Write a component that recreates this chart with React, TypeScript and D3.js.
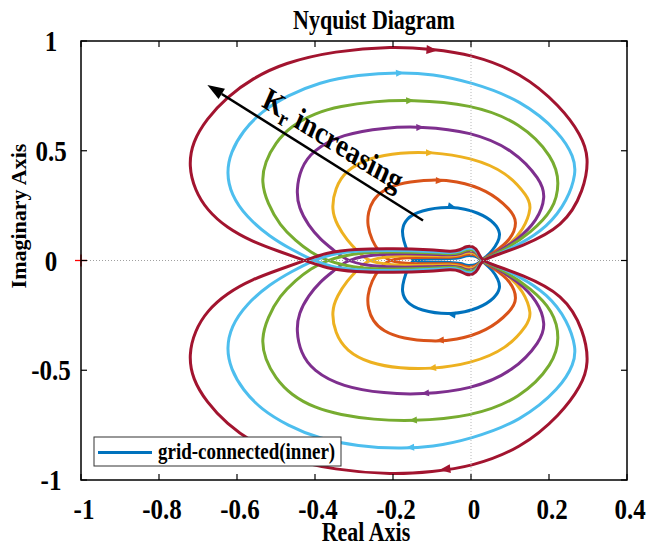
import React from "react";
import * as d3 from "d3";

// ---------- data ----------
const xTicks = [-1, -0.8, -0.6, -0.4, -0.2, 0, 0.2, 0.4];
const xTickLabels = ["-1", "-0.8", "-0.6", "-0.4", "-0.2", "0", "0.2", "0.4"];
const yTicks = [-1, -0.5, 0, 0.5, 1];
const yTickLabels = ["-1", "-0.5", "0", "0.5", "1"];

const seriesNames = ["blue", "orange", "yellow", "purple", "green", "lightblue", "red"];
const seriesColors = ["#0072BD", "#D95319", "#EDB120", "#7E2F8E", "#77AC30", "#4DBEEE", "#A2142F"];

// Upper (positive-imaginary) loop of each Nyquist curve; lower loop is its complex conjugate.
const blueUpper: [number, number][] = [
  [-0.15, 0.0], [-0.162, 0.035], [-0.173, 0.09], [-0.178, 0.14], [-0.167, 0.19], [-0.132, 0.228],
  [-0.05, 0.25], [0.023, 0.218], [0.062, 0.17], [0.076, 0.125], [0.07, 0.085], [0.054, 0.042],
  [0.034, 0.01], [0.026, 0.0], [0.018, -0.015], [0.005, -0.023], [-0.012, -0.023], [-0.025, -0.013],
  [-0.05, -0.008], [-0.1, -0.009], [-0.13, -0.006],
];
const orangeUpper: [number, number][] = [
  [-0.215, 0.0], [-0.236, 0.04], [-0.254, 0.09], [-0.266, 0.16], [-0.264, 0.22], [-0.252, 0.275],
  [-0.226, 0.322], [-0.174, 0.357], [-0.1, 0.369], [-0.04, 0.364], [0.042, 0.322], [0.102, 0.232],
  [0.12, 0.175], [0.102, 0.093], [0.057, 0.034], [0.026, 0.0], [0.018, -0.02], [0.005, -0.03],
  [-0.012, -0.03], [-0.025, -0.02], [-0.05, -0.014], [-0.1, -0.016], [-0.17, -0.014],
];
const yellowUpper: [number, number][] = [
  [-0.265, 0.0], [-0.29, 0.04], [-0.318, 0.093], [-0.343, 0.16], [-0.358, 0.23], [-0.349, 0.33],
  [-0.32, 0.412], [-0.26, 0.469], [-0.18, 0.492], [-0.105, 0.495], [0.0, 0.47], [0.093, 0.402],
  [0.146, 0.29], [0.156, 0.244], [0.135, 0.139], [0.093, 0.062], [0.05, 0.02], [0.026, 0.0],
  [0.018, -0.024], [0.005, -0.037], [-0.012, -0.037], [-0.025, -0.026], [-0.05, -0.019],
  [-0.1, -0.022], [-0.18, -0.023], [-0.23, -0.014],
];
const purpleUpper: [number, number][] = [
  [-0.32, 0.0], [-0.354, 0.05], [-0.386, 0.095], [-0.417, 0.16], [-0.442, 0.24], [-0.448, 0.32],
  [-0.437, 0.42], [-0.406, 0.502], [-0.33, 0.576], [-0.22, 0.606], [-0.13, 0.611], [0.0, 0.588],
  [0.11, 0.505], [0.179, 0.367], [0.192, 0.29], [0.171, 0.184], [0.119, 0.093], [0.06, 0.03],
  [0.026, 0.0], [0.018, -0.028], [0.005, -0.044], [-0.012, -0.044], [-0.026, -0.031],
  [-0.05, -0.024], [-0.1, -0.029], [-0.2, -0.032], [-0.27, -0.023],
];
const greenUpper: [number, number][] = [
  [-0.37, 0.0], [-0.41, 0.035], [-0.45, 0.09], [-0.49, 0.16], [-0.522, 0.26], [-0.538, 0.36],
  [-0.528, 0.45], [-0.502, 0.535], [-0.462, 0.612], [-0.4, 0.672], [-0.336, 0.703], [-0.25, 0.725],
  [-0.156, 0.733], [0.0, 0.713], [0.128, 0.628], [0.212, 0.47], [0.228, 0.353], [0.212, 0.23],
  [0.152, 0.125], [0.09, 0.052], [0.045, 0.016], [0.026, 0.0], [0.018, -0.032], [0.005, -0.05],
  [-0.012, -0.05], [-0.027, -0.035], [-0.05, -0.029], [-0.1, -0.036], [-0.2, -0.04],
  [-0.28, -0.036], [-0.33, -0.02],
];
const lightblueUpper: [number, number][] = [
  [-0.405, 0.0], [-0.46, 0.05], [-0.515, 0.107], [-0.577, 0.2], [-0.615, 0.3], [-0.627, 0.4],
  [-0.616, 0.495], [-0.585, 0.59], [-0.538, 0.678], [-0.47, 0.752], [-0.39, 0.812], [-0.29, 0.846],
  [-0.182, 0.858], [-0.1, 0.85], [0.0, 0.813], [0.128, 0.732], [0.23, 0.58], [0.264, 0.47],
  [0.27, 0.4], [0.248, 0.275], [0.197, 0.153], [0.12, 0.068], [0.06, 0.022], [0.026, 0.0],
  [0.018, -0.037], [0.005, -0.057], [-0.012, -0.057], [-0.028, -0.041], [-0.05, -0.034],
  [-0.1, -0.042], [-0.2, -0.047], [-0.3, -0.044], [-0.36, -0.028],
];
const redUpper: [number, number][] = [
  [-0.426, 0.0], [-0.49, 0.04], [-0.56, 0.085], [-0.627, 0.15], [-0.677, 0.23], [-0.708, 0.32],
  [-0.724, 0.43], [-0.714, 0.54], [-0.678, 0.645], [-0.626, 0.745], [-0.56, 0.83], [-0.48, 0.9],
  [-0.35, 0.955], [-0.2, 0.976], [-0.1, 0.963], [0.0, 0.94], [0.128, 0.857], [0.23, 0.702],
  [0.283, 0.57], [0.303, 0.47], [0.29, 0.32], [0.238, 0.153], [0.126, 0.062], [0.06, 0.022],
  [0.026, 0.0], [0.018, -0.043], [0.005, -0.066], [-0.012, -0.066], [-0.028, -0.047],
  [-0.05, -0.04], [-0.1, -0.049], [-0.2, -0.055], [-0.3, -0.052], [-0.37, -0.036],
];
const seriesUpper = [blueUpper, orangeUpper, yellowUpper, purpleUpper, greenUpper, lightblueUpper, redUpper];

// arrow positions (real-axis value) on the top of upper loops and bottom of lower loops
const arrowTopX = [-0.049, -0.08, -0.105, -0.13, -0.156, -0.182, -0.1];
const arrowBottomX = [-0.05, -0.08, -0.1, -0.118, -0.149, -0.156, -0.067];

const legendLabel = "grid-connected(inner)";
const titleText = "Nyquist Diagram";
const xLabel = "Real Axis";
const yLabel = "Imaginary Axis";

// ---------- layout ----------
const W = 649, H = 545;
const L = 81, R = 627, T = 41, B = 480;
const FONT = "'Liberation Serif', 'Times New Roman', Times, serif";
const SY = 1.2;

const x = d3.scaleLinear().domain([-1, 0.4]).range([L, R]);
const y = d3.scaleLinear().domain([-1, 1]).range([B, T]);

const lineGen = d3
  .line<[number, number]>()
  .x((d) => x(d[0]))
  .y((d) => y(d[1]))
  .curve(d3.curveBasisClosed);

function arrowAt(pts: [number, number][], ax: number, lower: boolean) {
  const maxY = d3.max(pts, (p) => p[1]) as number;
  for (let i = 0; i < pts.length - 1; i++) {
    const a = pts[i], b = pts[i + 1];
    if (a[0] <= ax && ax <= b[0] && a[1] > 0.6 * maxY && b[1] > 0.6 * maxY) {
      const t = (ax - a[0]) / (b[0] - a[0]);
      const yy = a[1] + t * (b[1] - a[1]) - 0.004;
      const sy = lower ? -1 : 1;
      const px = x(ax), py = y(sy * yy);
      let dx = x(b[0]) - x(a[0]);
      let dy = y(sy * b[1]) - y(sy * a[1]);
      if (lower) { dx = -dx; dy = -dy; }
      const ang = (Math.atan2(dy, dx) * 180) / Math.PI;
      return { px, py, ang };
    }
  }
  return null;
}

function T2({ x: tx, y: ty, size, anchor = "middle", children, rotate = 0 }: any) {
  return (
    <text
      transform={`translate(${tx},${ty}) scale(1,${SY}) rotate(${rotate})`}
      fontFamily={FONT}
      fontWeight="bold"
      fontSize={size}
      textAnchor={anchor}
      fill="#000"
    >
      {children}
    </text>
  );
}

export default function App() {
  const arrowStart = [x(-0.123), y(0.182)];
  const arrowEnd = [x(-0.676), y(0.8)];
  const aAng = Math.atan2(arrowEnd[1] - arrowStart[1], arrowEnd[0] - arrowStart[0]);
  const headLen = 17, headW = 12;
  const hx = arrowEnd[0], hy = arrowEnd[1];
  const bx = hx - headLen * Math.cos(aAng), by = hy - headLen * Math.sin(aAng);
  const head = [
    [hx, hy],
    [bx + (headW / 2) * Math.sin(aAng), by - (headW / 2) * Math.cos(aAng)],
    [bx - (headW / 2) * Math.sin(aAng), by + (headW / 2) * Math.cos(aAng)],
  ];
  const textAngDeg = (Math.atan(Math.tan(Math.atan2(arrowStart[1] - arrowEnd[1], arrowStart[0] - arrowEnd[0])) / SY) * 180) / Math.PI;

  return (
    <svg width={W} height={H} style={{ position: "absolute", left: 0, top: 0, background: "#fff" }}>
      <rect x={0} y={0} width={W} height={H} fill="#fff" />
      <defs>
        <clipPath id="plotclip">
          <rect x={L} y={T} width={R - L} height={B - T} />
        </clipPath>
      </defs>

      <g clipPath="url(#plotclip)">
        {seriesUpper.map((pts, i) => {
          const lower = pts.map((p) => [p[0], -p[1]] as [number, number]);
          return (
            <g key={seriesNames[i]}>
              <path d={lineGen(pts) || ""} fill="none" stroke={seriesColors[i]} strokeWidth={3} strokeLinejoin="round" />
              <path d={lineGen(lower) || ""} fill="none" stroke={seriesColors[i]} strokeWidth={3} strokeLinejoin="round" />
            </g>
          );
        })}
        {seriesUpper.map((pts, i) => {
          const top = arrowAt(pts, arrowTopX[i], false);
          const bot = arrowAt(pts, arrowBottomX[i], true);
          const len = i === 6 ? 11 : 8;
          const wd = i === 6 ? 9 : 7;
          const tri = `M${len / 2},0L${-len / 2},${-wd / 2}L${-len / 2},${wd / 2}Z`;
          return (
            <g key={"ar" + i}>
              {top && <path d={tri} transform={`translate(${top.px},${top.py}) rotate(${top.ang})`} fill={seriesColors[i]} />}
              {bot && <path d={tri} transform={`translate(${bot.px},${bot.py}) rotate(${bot.ang})`} fill={seriesColors[i]} />}
            </g>
          );
        })}
        {/* zero lines */}
        <line x1={x(0)} x2={x(0)} y1={T} y2={B} stroke="#b8b8b8" strokeWidth={1} strokeDasharray="1,2" />
        <line x1={L} x2={R} y1={y(0)} y2={y(0)} stroke="#a0a0a0" strokeWidth={1} strokeDasharray="1,2" />
      </g>

      {/* critical point marker */}
      <line x1={x(-1) - 6} x2={x(-1) + 6} y1={y(0)} y2={y(0)} stroke="#ff0000" strokeWidth={1.3} />
      <line x1={x(-1)} x2={x(-1)} y1={y(0) - 6} y2={y(0) + 6} stroke="#ff0000" strokeWidth={1.3} />

      {/* annotation arrow */}
      <line x1={arrowStart[0]} y1={arrowStart[1]} x2={bx} y2={by} stroke="#000" strokeWidth={2.5} />
      <polygon points={head.map((p) => p.join(",")).join(" ")} fill="#000" />
      <text
        transform={`translate(${329},${149}) scale(1,${SY}) rotate(${textAngDeg})`}
        fontFamily={FONT}
        fontWeight="bold"
        fontSize={27}
        textAnchor="middle"
      >
        K<tspan fontSize={19} dy={5}>r</tspan>
        <tspan dy={-5}> increasing</tspan>
      </text>

      {/* axes box */}
      <rect x={L} y={T} width={R - L} height={B - T} fill="none" stroke="#000" strokeWidth={1.5} />
      {xTicks.map((t) => (
        <g key={"xt" + t}>
          <line x1={x(t)} x2={x(t)} y1={B} y2={B - 6} stroke="#000" strokeWidth={1.2} />
          <line x1={x(t)} x2={x(t)} y1={T} y2={T + 6} stroke="#000" strokeWidth={1.2} />
        </g>
      ))}
      {yTicks.map((t) => (
        <g key={"yt" + t}>
          <line x1={L} x2={L + 6} y1={y(t)} y2={y(t)} stroke="#000" strokeWidth={1.2} />
          <line x1={R} x2={R - 6} y1={y(t)} y2={y(t)} stroke="#000" strokeWidth={1.2} />
        </g>
      ))}
      {xTicks.map((t, i) => (
        <T2 key={"xl" + t} x={x(t) + 3} y={519} size={25}>{xTickLabels[i]}</T2>
      ))}
      {yTicks.map((t, i) => (
        <T2 key={"yl" + t} x={51} y={y(t) + 10} size={25}>{yTickLabels[i]}</T2>
      ))}

      {/* legend */}
      <rect x={94} y={437} width={247} height={29} fill="#fff" stroke="#333" strokeWidth={1} />
      <line x1={98} x2={152} y1={452.5} y2={452.5} stroke={seriesColors[0]} strokeWidth={3} />
      <T2 x={158} y={459} size={19} anchor="start">{legendLabel}</T2>

      {/* titles */}
      <T2 x={374} y={29} size={22}>{titleText}</T2>
      <T2 x={366} y={541} size={22}>{xLabel}</T2>
      <text
        transform={`translate(26,216) rotate(-90)`}
        fontFamily={FONT}
        fontWeight="bold"
        fontSize={22}
        textAnchor="middle"
      >
        {yLabel}
      </text>
    </svg>
  );
}
